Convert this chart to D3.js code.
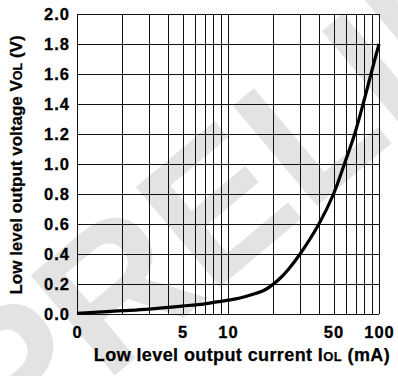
<!DOCTYPE html>
<html lang="en">
<head>
    <meta charset="UTF-8">
    <title>Low level output voltage vs current</title>
    <script src="https://d3js.org/d3.v7.min.js"></script>
    <style>
        body {
            margin: 0;
            padding: 0;
            background-color: #fff;
        }
        svg text {
            font-family: "Liberation Sans", Arial, sans-serif;
            font-weight: bold;
        }
    </style>
</head>
<body>
<div id="chart"></div>

<script type="text/javascript">
    // curve data (IOL in mA, VOL in V)
    const current = [1, 2, 3, 5, 7, 10, 12, 15, 17.5, 20, 22.5, 25, 30, 40, 50, 59, 69, 78.5, 88.5, 100];
    const voltage = [0.005, 0.022, 0.033, 0.053, 0.068, 0.092, 0.107, 0.135, 0.16, 0.2, 0.245, 0.295, 0.4, 0.6, 0.8, 1.0, 1.2, 1.4, 1.6, 1.8];

    const xGrid = [1, 2, 3, 4, 5, 6, 7, 8, 9, 10, 20, 30, 40, 50, 60, 70, 80, 90, 100];
    const xTickValues = [1, 5, 10, 50, 100];
    const xTickLabels = ["0", "5", "10", "50", "100"];
    const yTicks = [0, 0.2, 0.4, 0.6, 0.8, 1.0, 1.2, 1.4, 1.6, 1.8, 2.0];

    const W = 398, H = 376;
    const margin = { top: 14, right: 19, bottom: 62, left: 77 },
          width = W - margin.left - margin.right,
          height = H - margin.top - margin.bottom;

    const svg = d3.select("#chart")
        .append("svg")
        .attr("width", W)
        .attr("height", H);

    // watermark
    svg.append("text")
        .attr("transform", "translate(8,465) rotate(-40)")
        .attr("font-size", 190)
        .attr("fill", "#e3e3e3")
        .text("PRELIMINARY");

    const g = svg.append("g")
        .attr("transform", `translate(${margin.left},${margin.top})`);

    const x = d3.scaleLog()
        .domain([1, 100])
        .range([0, width]);

    const y = d3.scaleLinear()
        .domain([0, 2])
        .range([height, 0]);

    // grid
    g.append("g")
        .selectAll("line")
        .data(xGrid)
        .enter().append("line")
        .attr("x1", d => Math.round(x(d)) + 0.5)
        .attr("x2", d => Math.round(x(d)) + 0.5)
        .attr("y1", 0)
        .attr("y2", height)
        .attr("stroke", "#111")
        .attr("stroke-width", 1);

    g.append("g")
        .selectAll("line")
        .data(yTicks)
        .enter().append("line")
        .attr("x1", 0)
        .attr("x2", width)
        .attr("y1", d => Math.round(y(d)) + 0.5)
        .attr("y2", d => Math.round(y(d)) + 0.5)
        .attr("stroke", "#111")
        .attr("stroke-width", 1);

    // axes (labels only)
    const xAxis = g.append("g")
        .attr("transform", `translate(0,${height})`)
        .call(d3.axisBottom(x)
            .tickValues(xTickValues)
            .tickSize(0)
            .tickPadding(12)
            .tickFormat((d, i) => xTickLabels[i]));

    const yAxis = g.append("g")
        .call(d3.axisLeft(y)
            .tickValues(yTicks)
            .tickSize(0)
            .tickPadding(7)
            .tickFormat(d3.format(".1f")));

    [xAxis, yAxis].forEach(a => {
        a.select(".domain").remove();
        a.selectAll("text")
            .attr("font-size", 16.5)
            .attr("letter-spacing", 1)
            .attr("stroke", "#000")
            .attr("stroke-width", 0.3)
            .attr("fill", "#000");
    });

    // curve
    const pts = current.map((c, i) => [c, voltage[i]]);
    g.append("path")
        .datum(pts)
        .attr("fill", "none")
        .attr("stroke", "#000")
        .attr("stroke-width", 3.2)
        .attr("stroke-linejoin", "round")
        .attr("d", d3.line()
            .x(d => x(d[0]))
            .y(d => y(d[1]))
            .curve(d3.curveCatmullRom.alpha(0.5)));

    // axis titles
    const xt = svg.append("text")
        .attr("x", 242)
        .attr("y", 361)
        .attr("text-anchor", "middle")
        .attr("font-size", 18)
        .attr("letter-spacing", 0.4)
        .attr("stroke", "#000")
        .attr("stroke-width", 0.25);
    xt.append("tspan").text("Low level output current I");
    xt.append("tspan").attr("font-size", 13).text("OL");
    xt.append("tspan").text(" (mA)");

    const yt = svg.append("text")
        .attr("transform", "translate(22,165) rotate(-90)")
        .attr("text-anchor", "middle")
        .attr("font-size", 17)
        .attr("stroke", "#000")
        .attr("stroke-width", 0.25);
    yt.append("tspan").text("Low level output voltage V");
    yt.append("tspan").attr("font-size", 12.5).text("OL");
    yt.append("tspan").text(" (V)");
</script>

</body>
</html>
